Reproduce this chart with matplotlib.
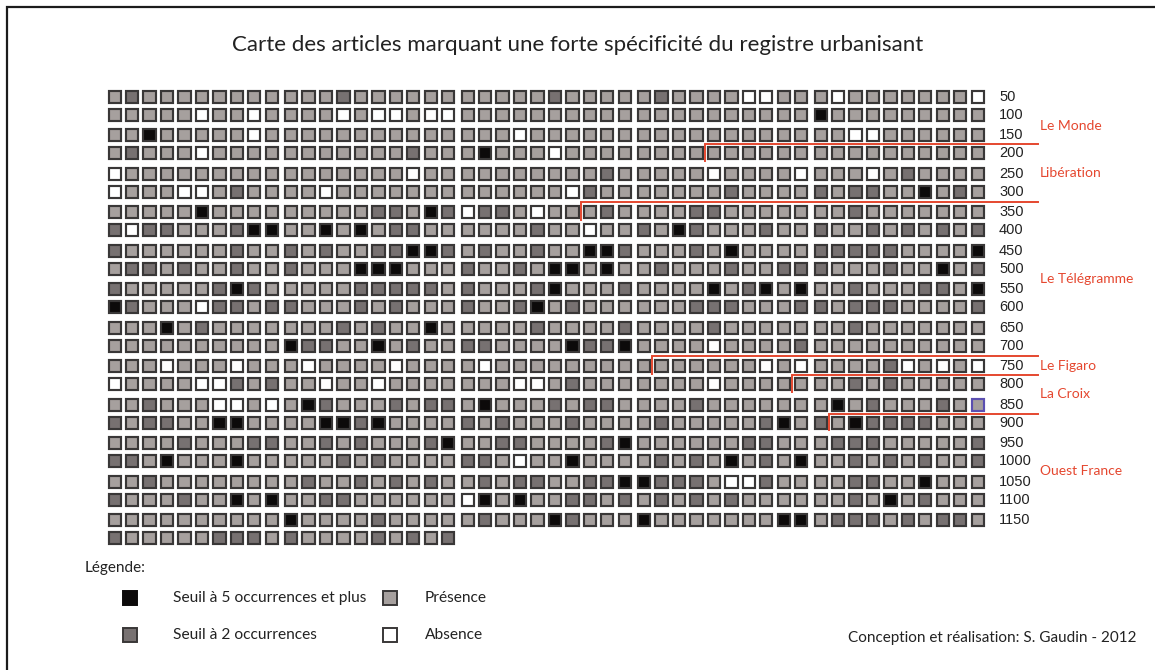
import matplotlib.pyplot as plt
from matplotlib.patches import Rectangle

# one string per row of 50 articles, grouped by tens
# B = 5+ occurrences, D = 2+ occurrences, L = present, W = absent
ROWS = [
    "LDLLLLLLLL LLLDLLLLLL LLLLLDLLLL LDLLLLWWLL LWLLLLLLLW",
    "LLLLLWLLWL LLLWLWWLWW LLLLLLLLLL LLLLLLLLLL BLLLLLLLLL",
    "LLBLLLLLWL LLLLLLLLLL LLLWLLLLLL LLLLLLLLLL LLWWLLLLLL",
    "LDLLLWLLLL LLLLLLLDLL LBLLLWLLLL LLLLLLLLLL LLLLLLLLLL",
    "WLLLLLLLLL LLLLLLLWLL LLLLLLLLDL LLLLWLLLLW LLLWLDLLLL",
    "WLLLWWLDLL LLWLLLLLLL LLLLLLWDLL LLLLLDLLLL DLDDLLBLDL",
    "LLLLLBLLLL LLLLLDDLBD WDDLWLLLDL LLLDDLLLLL LLDLLLLLLL",
    "DWDDLLLDBB LLBLBLDDLL LLLLDLLWLL DLBDLLLDLL DLLDLDLDLD",
    "DLLLLLLDLL DLDLLDDBBD LDLLDLLBBD LLLDLBLLLL DDDDDLLLLB",
    "LDDLDLLDLL DLLLBBBLLL DLLDLBBLBL LDLLLDLLDD DLLLDLLBLD",
    "DLLLLLDBDL LLLLDDDDDL DLLLDBLLLD LLLLBLDBLB LLDLLLDDLB",
    "BDLLLWDDLD DLLLDLDLLL DLLDBLDLLL LLLDDDLLLD DLDDDLLLLD",
    "LLLBLDLLLL LLLDLDLLBL LLLLDLLLLD LLLLDLLLLL LLDLLLLLLL",
    "LLLLLLLLLL BDDLLBLDLL DDLLLLBDDB LLLLWLLLLD LLLLLLLLLL",
    "LLLWLLLWLL LWLLLLWLLL LWLLLLLLLL LLLLLLLWLW LLLLDWLWLW",
    "WLLLLWWDLD LLWLLWLLLL LLLWWLDLLL LLLLWLLLLL LLDLDLLLLL",
    "LLDLLLWWLW LBDLLLDLDD LBLLLDLDDL LLLDLLLLLL LBLDLLLDLL",
    "DLDDLLBBLL LLBBDBLLLL DLDLLLDLLL LDLLLLLDBL DLBDDDDLLL",
    "LLLLDLLLDD LLDLDLLLDB LLDDLLLLDB LLLLLLDDLL LDDDLLLLLD",
    "DDLBLLLBLL LLLDLDLLLL DDLWLLBLLL LDLDLBLDLB LLDLDLDLLD",
    "LLDLLLLLLL LDLLDLDLDL LDLDDLLDDB BDDDLWWDLL LLDDLLBLLL",
    "DLLLDLLBLB LLDDLLLLLL WBLBLLDDLD LDLDLDLLLL LLDLBLDLLL",
    "LLLLLLLLLL BLLLLDLLLL LDLLLBDLLL BLLLLLLLBB LDDDLDLDDL",
    "DLLLLLDDDL DLLLLDLDLD",
]
ROW_LABELS = [str(50 * (i + 1)) for i in range(23)]

# first article of each paper
PAPERS = ["Le Monde", "Libération", "Le Télégramme", "Le Figaro", "La Croix", "Ouest France"]
PAPER_START = [0, 184, 327, 731, 789, 891]
HIGHLIGHT = 849  # article outlined in blue

LEGEND = [("B", "Seuil à 5 occurrences et plus"), ("D", "Seuil à 2 occurrences"),
          ("L", "Présence"), ("W", "Absence")]

FILL = {"B": "#0c0a0a", "D": "#777171", "L": "#a6a09e", "W": "#ffffff"}
EDGE = "#393737"
RED = "#e5472f"
FONT = "Lato"
INK = "#222222"

codes = "".join(ROWS).replace(" ", "")

# layout (pixels)
X0, Y0 = 108.5, 90.5
PITCH_X, GROUP_GAP = 17.45, 2.0
PITCH_Y, PAIR_GAP = 18.0, 2.5
SIZE = 12.3


def cell_x(c):
    return X0 + c * PITCH_X + (c // 10) * GROUP_GAP


def cell_y(r):
    return Y0 + r * PITCH_Y + (r // 2) * PAIR_GAP


fig = plt.figure(figsize=(11.55, 6.70), dpi=100)
ax = fig.add_axes([0, 0, 1, 1])
ax.set_xlim(0, 1155)
ax.set_ylim(670, 0)
ax.axis("off")

# frame
ax.plot([7, 7, 1155], [670, 7, 7], color="#1c1c1c", lw=1.6, solid_joinstyle="miter")

ax.text(578, 45, "Carte des articles marquant une forte spécificité du registre urbanisant",
        ha="center", va="center", fontsize=16, family=FONT, color=INK)

for i, code in enumerate(codes):
    r, c = divmod(i, 50)
    ec = "#5b4fb0" if i == HIGHLIGHT else EDGE
    ax.add_patch(Rectangle((cell_x(c), cell_y(r)), SIZE, SIZE, facecolor=FILL[code],
                           edgecolor=ec, lw=1.55, joinstyle="miter"))

for r, lab in enumerate(ROW_LABELS):
    ax.text(999, cell_y(r) + SIZE / 2, lab, ha="left", va="center", fontsize=10.5,
            family="Liberation Sans", color=INK)

# separators between papers
line_y = []
for start in PAPER_START[1:]:
    r, c = divmod(start, 50)
    xs = cell_x(c) - (PITCH_X - SIZE) / 2 - 0.5
    ys = cell_y(r) - (cell_y(r) - cell_y(r - 1) - SIZE) / 2
    ax.plot([xs, xs, 1038], [cell_y(r) + SIZE + 1.5, ys, ys], color=RED, lw=1.4,
            solid_joinstyle="miter")
    line_y.append(ys)

bounds = [108] + line_y + [528]
for name, top, bot in zip(PAPERS, bounds[:-1], bounds[1:]):
    ax.text(1040, (top + bot) / 2, name, ha="left", va="center", fontsize=10,
            family=FONT, color=RED)

# legend
ax.text(85, 568, "Légende:", ha="left", va="center", fontsize=11, family=FONT, color=INK)
for k, (code, label) in enumerate(LEGEND):
    col, row = divmod(k, 2)
    bx = 123 + col * 260
    by = 591 + row * 37
    ec = FILL["B"] if code == "B" else EDGE
    ax.add_patch(Rectangle((bx, by), 14, 14, facecolor=FILL[code], edgecolor=ec, lw=1.4,
                           joinstyle="miter"))
    ax.text(bx + (50 if col == 0 else 42), by + 7, label, ha="left", va="center",
            fontsize=11.2, family=FONT, color=INK)

ax.text(1137, 638, "Conception et réalisation: S. Gaudin - 2012", ha="right", va="center",
        fontsize=11, family=FONT, color=INK)

fig.savefig("out.png", dpi=100)
